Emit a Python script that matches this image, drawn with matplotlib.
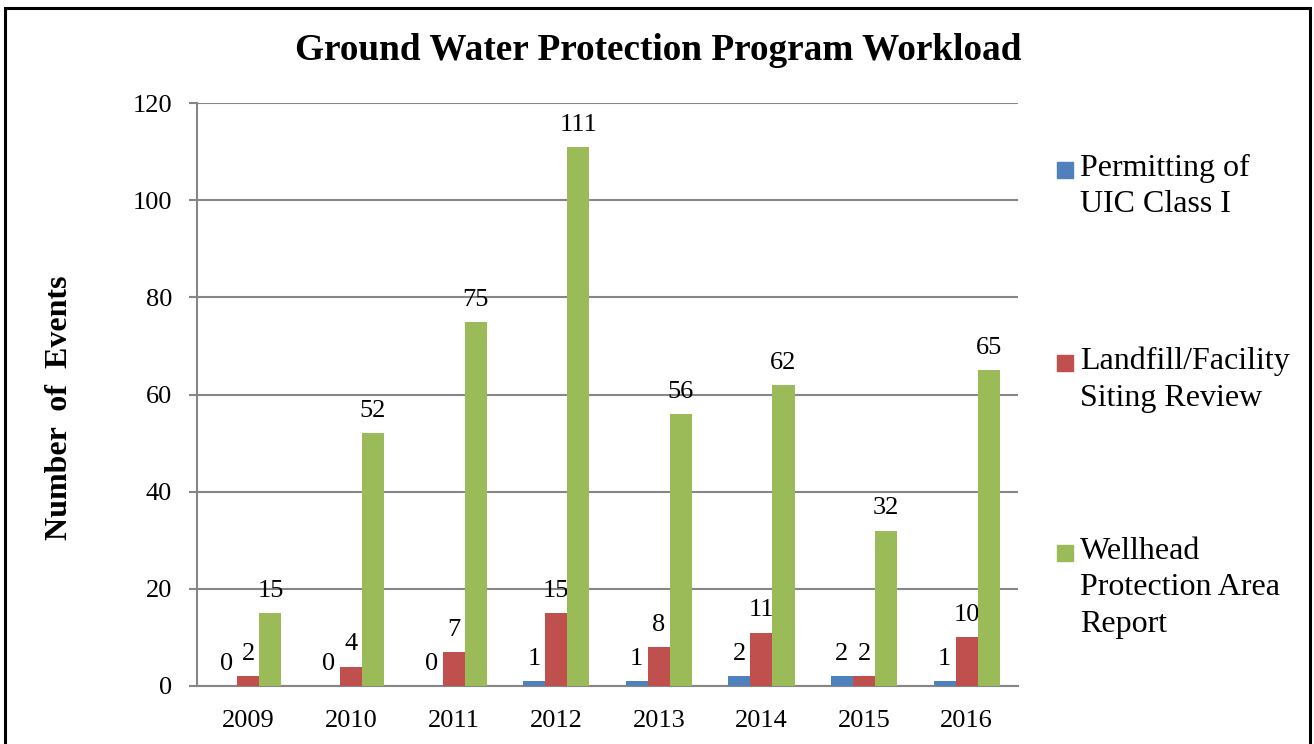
import matplotlib
matplotlib.use("Agg")
import matplotlib.pyplot as plt
from matplotlib.patches import Rectangle
import numpy as np

years = ["2009", "2010", "2011", "2012", "2013", "2014", "2015", "2016"]
permitting = [0, 0, 0, 1, 1, 2, 2, 1]
landfill = [2, 4, 7, 15, 8, 11, 2, 10]
wellhead = [15, 52, 75, 111, 56, 62, 32, 65]

series_names = ["Permitting of\nUIC Class I",
                "Landfill/Facility\nSiting Review",
                "Wellhead\nProtection Area\nReport"]
colors = ["#4F81BD", "#C0504D", "#9BBB59"]
grid_c = "#868686"

plt.rcParams["font.family"] = ["Liberation Serif", "DejaVu Serif"]

fig = plt.figure(figsize=(13.14, 7.44), dpi=100)
ax = fig.add_axes([197 / 1314, 1 - 686 / 744, (1018 - 197) / 1314, (686 - 103) / 744])

x = np.arange(len(years))
w = 0.215
for i, (vals, c) in enumerate(zip([permitting, landfill, wellhead], colors)):
    pos = x + (i - 1) * w
    ax.bar(pos, vals, width=w, color=c, zorder=3)
    for px, v in zip(pos, vals):
        ax.annotate(str(v), (px, v), xytext=(0, 8), textcoords="offset points",
                    ha="center", va="bottom", fontsize=19)

ax.set_xlim(-0.5, len(years) - 0.5)
ax.set_ylim(0, 120)
ax.set_yticks(range(0, 121, 20))
ax.set_xticks(x)
ax.set_xticklabels(years)
ax.yaxis.grid(True, color=grid_c, lw=1.5, zorder=0)
for s in ["top", "right"]:
    ax.spines[s].set_visible(False)
for s in ["left", "bottom"]:
    ax.spines[s].set_color(grid_c)
    ax.spines[s].set_linewidth(1.5)
ax.tick_params(axis="y", length=6, width=1.5, color=grid_c, pad=12, labelsize=19)
ax.tick_params(axis="x", length=0, pad=17, labelsize=19)

ax.set_ylabel("Number  of  Events", fontsize=23, fontweight="bold")
ax.yaxis.set_label_coords(-0.1498, 0.478)

fig.text(658 / 1314, 1 - 50 / 744, "Ground Water Protection Program Workload",
         ha="center", va="center", fontsize=26.8, fontweight="bold")

# legend drawn by hand to keep Excel-like spacing
leg_y = [170, 363, 553]
for name, c, yy in zip(series_names, colors, leg_y):
    fig.patches.append(Rectangle((1057 / 1314, 1 - (yy + 8) / 744), 16 / 1314, 16 / 744,
                                 transform=fig.transFigure, color=c))
    fig.text(1080 / 1314, 1 - (yy - 16) / 744, name, ha="left", va="top",
             fontsize=23, linespacing=1.34)

fig.patches.append(Rectangle((5 / 1314, -0.02), 1305 / 1314, 1.02 - 8 / 744,
                             transform=fig.transFigure, fill=False,
                             edgecolor="black", lw=2.2))

fig.savefig("out.png", dpi=100)
